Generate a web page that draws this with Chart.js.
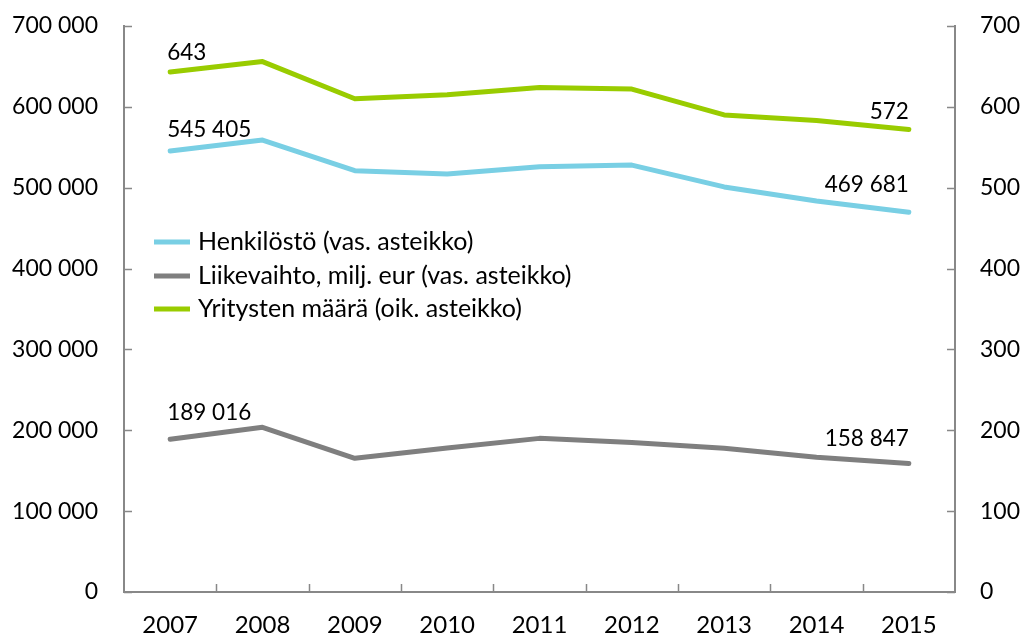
<!DOCTYPE html>
<html>
<head>
<meta charset="utf-8">
<script src="https://cdn.jsdelivr.net/npm/chart.js@4"></script>
<style>
  html, body { margin: 0; padding: 0; background: #fff; }
  #wrap { width: 1034px; height: 637px; }
</style>
</head>
<body>
<div id="wrap"><canvas id="chart" width="1034" height="637"></canvas></div>
<script>
// Vuodet ja sarjat
const years = ['2007', '2008', '2009', '2010', '2011', '2012', '2013', '2014', '2015'];
const henkilosto = [545405, 559000, 521000, 517000, 526000, 528000, 501000, 483500, 469681];
const liikevaihto = [189016, 203700, 165300, 178000, 190000, 185000, 177700, 166600, 158847];
const yritykset = [643, 656, 610, 615, 624, 622, 590, 583, 572];

const seriesNames = [
  'Henkilöstö (vas. asteikko)',
  'Liikevaihto, milj. eur (vas. asteikko)',
  'Yritysten määrä (oik. asteikko)'
];
const seriesColors = ['#79cfe4', '#7f7f7f', '#99cc00'];

const FONT = 'Lato, "Open Sans", sans-serif';
const AXIS = '#888888';

function fmt(n) {
  return String(Math.round(n)).replace(/\B(?=(\d{3})+(?!\d))/g, ' ');
}

// Tikkimerkit sisäänpäin + selite + arvolaput
const decorPlugin = {
  id: 'decor',
  afterDatasetsDraw(chart) {
    const ctx = chart.ctx;
    ctx.save();
    ctx.font = '22.5px ' + FONT;
    ctx.fillStyle = '#000';
    ctx.textBaseline = 'middle';
    // label offsets above point (first, last)
    const offs = [[21, 27], [26, 25], [19, 18]];
    chart.data.datasets.forEach((ds, i) => {
      const pts = chart.getDatasetMeta(i).data;
      const first = pts[0], last = pts[pts.length - 1];
      ctx.textAlign = 'left';
      ctx.fillText(fmt(ds.data[0]), first.x - 3, first.y - offs[i][0]);
      ctx.textAlign = 'right';
      ctx.fillText(fmt(ds.data[ds.data.length - 1]), last.x, last.y - offs[i][1]);
    });
    ctx.restore();
  },
  afterDraw(chart) {
    const ctx = chart.ctx;
    const area = chart.chartArea;
    const x = chart.scales.x, yl = chart.scales.y, yr = chart.scales.y2;
    ctx.save();
    ctx.strokeStyle = AXIS;
    ctx.lineWidth = 1.5;
    ctx.beginPath();
    yl.ticks.forEach((t, i) => {
      const py = Math.round(yl.getPixelForTick(i)) + 0.5;
      ctx.moveTo(area.left, py); ctx.lineTo(area.left + 8, py);
    });
    yr.ticks.forEach((t, i) => {
      const py = Math.round(yr.getPixelForTick(i)) + 0.5;
      ctx.moveTo(area.right, py); ctx.lineTo(area.right - 8, py);
    });
    const half = (x.getPixelForTick(1) - x.getPixelForTick(0)) / 2;
    for (let i = 1; i < years.length; i++) {
      const px = Math.round(x.getPixelForTick(i) - half) + 0.5;
      ctx.moveTo(px, area.bottom); ctx.lineTo(px, area.bottom - 8);
    }
    ctx.stroke();

    // selite
    ctx.font = '25px ' + FONT;
    ctx.fillStyle = '#000';
    ctx.textAlign = 'left';
    ctx.textBaseline = 'middle';
    ctx.lineWidth = 5;
    ctx.lineCap = 'butt';
    const lx = area.left + 30, rows = [242, 276, 309];
    chart.data.datasets.forEach((ds, i) => {
      ctx.strokeStyle = ds.borderColor;
      ctx.beginPath();
      ctx.moveTo(lx, rows[i]); ctx.lineTo(lx + 36, rows[i]);
      ctx.stroke();
      ctx.fillText(ds.label, lx + 44, rows[i]);
    });
    ctx.restore();
  }
};

new Chart(document.getElementById('chart'), {
  type: 'line',
  data: {
    labels: years,
    datasets: [
      { label: seriesNames[0], data: henkilosto, yAxisID: 'y', borderColor: seriesColors[0] },
      { label: seriesNames[1], data: liikevaihto, yAxisID: 'y', borderColor: seriesColors[1] },
      { label: seriesNames[2], data: yritykset, yAxisID: 'y2', borderColor: seriesColors[2] }
    ]
  },
  options: {
    responsive: false,
    animation: false,
    devicePixelRatio: 1,
    layout: { padding: { top: 26, left: 0, right: 0, bottom: 0 } },
    elements: {
      line: { borderWidth: 5, tension: 0, borderCapStyle: 'round', borderJoinStyle: 'round' },
      point: { radius: 0, hoverRadius: 0 }
    },
    plugins: {
      legend: { display: false },
      tooltip: { enabled: false }
    },
    scales: {
      x: {
        offset: true,
        grid: { display: false, drawTicks: false },
        border: { display: true, color: AXIS, width: 2 },
        ticks: { color: '#000', font: { family: FONT, size: 24 }, padding: 19, maxRotation: 0 },
        afterFit(s) { s.height = 45; }
      },
      y: {
        position: 'left',
        min: 0, max: 700000,
        grid: { display: false, drawTicks: false },
        border: { display: true, color: AXIS, width: 2 },
        ticks: { stepSize: 100000, color: '#000', font: { family: FONT, size: 23 }, padding: 26, callback: v => fmt(v) },
        afterFit(s) { s.width = 124; s.paddingTop = 0; s.paddingBottom = 0; }
      },
      y2: {
        position: 'right',
        min: 0, max: 700,
        grid: { display: false, drawTicks: false },
        border: { display: true, color: AXIS, width: 2 },
        ticks: { stepSize: 100, color: '#000', font: { family: FONT, size: 23 }, padding: 25, callback: v => fmt(v) },
        afterFit(s) { s.width = 79; s.paddingTop = 0; s.paddingBottom = 0; }
      }
    }
  },
  plugins: [decorPlugin]
});
</script>
</body>
</html>
